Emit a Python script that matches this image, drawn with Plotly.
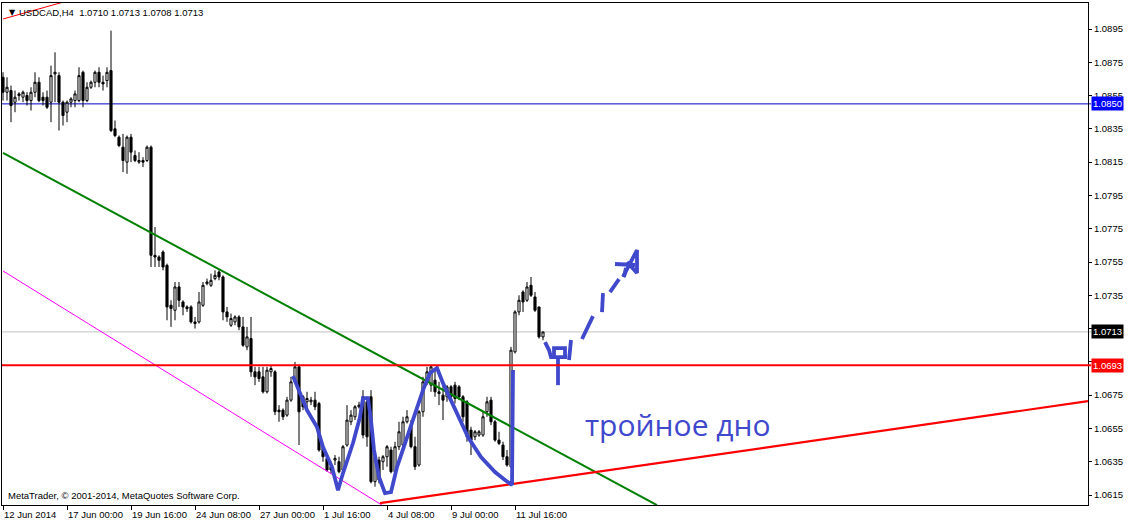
import plotly.graph_objects as go

# ---------------- data (USDCAD H4) ----------------
opens = [1.0866,1.0857,1.0858,1.0851,1.0855,1.0854,1.0855,1.0852,1.0857,1.0863,
         1.0854,1.0854,1.0851,1.0868,1.0867,1.0851,1.0845,1.0851,1.0852,1.0852,
         1.0869,1.0852,1.0860,1.0863,1.0869,1.0863,1.0864,1.0870,1.0835,1.0830,
         1.0824,1.0815,1.0830,1.0819,1.0815,1.0816,1.0816,1.0824,1.0759,1.0758,
         1.0761,1.0753,1.0729,1.0726,1.0740,1.0731,1.0728,1.0728,1.0719,1.0719,
         1.0729,1.0742,1.0741,1.0745,1.0749,1.0746,1.0725,1.0717,1.0719,1.0722,
         1.0716,1.0704,1.0709,1.0689,1.0689,1.0686,1.0677,1.0689,1.0689,1.0666,
         1.0666,1.0663,1.0672,1.0683,1.0692,1.0674,1.0671,1.0671,1.0672,1.0670,
         1.0643,1.0637,1.0632,1.0636,1.0635,1.0630,1.0645,1.0659,1.0662,1.0668,
         1.0674,1.0671,1.0674,1.0623,1.0636,1.0635,1.0638,1.0642,1.0629,1.0644,
         1.0645,1.0659,1.0657,1.0644,1.0633,1.0665,1.0683,1.0681,1.0684,1.0677,
         1.0675,1.0674,1.0680,1.0681,1.0680,1.0674,1.0671,1.0654,1.0650,1.0651,
         1.0651,1.0665,1.0672,1.0659,1.0648,1.0645,1.0638,1.0632,1.0701,1.0725,
         1.0737,1.0732,1.0741,1.0734,1.0728,1.0710]
highs = [1.0869,1.0866,1.0861,1.0858,1.0857,1.0858,1.0857,1.0860,1.0869,1.0866,
         1.0857,1.0858,1.0873,1.0881,1.0869,1.0852,1.0852,1.0854,1.0858,1.0872,
         1.0870,1.0863,1.0864,1.0870,1.0872,1.0867,1.0872,1.0894,1.0840,1.0831,
         1.0832,1.0831,1.0832,1.0822,1.0821,1.0818,1.0825,1.0825,1.0776,1.0759,
         1.0762,1.0754,1.0732,1.0743,1.0743,1.0732,1.0729,1.0729,1.0722,1.0737,
         1.0743,1.0745,1.0748,1.0750,1.0750,1.0747,1.0728,1.0724,1.0723,1.0723,
         1.0722,1.0716,1.0722,1.0692,1.0692,1.0692,1.0692,1.0693,1.0690,1.0669,
         1.0667,1.0674,1.0686,1.0695,1.0693,1.0675,1.0677,1.0674,1.0677,1.0671,
         1.0644,1.0639,1.0635,1.0639,1.0638,1.0645,1.0669,1.0666,1.0669,1.0671,
         1.0678,1.0674,1.0678,1.0642,1.0638,1.0639,1.0645,1.0644,1.0647,1.0659,
         1.0662,1.0666,1.0660,1.0650,1.0666,1.0686,1.0692,1.0693,1.0690,1.0683,
         1.0681,1.0681,1.0681,1.0683,1.0681,1.0675,1.0672,1.0656,1.0654,1.0654,
         1.0665,1.0674,1.0674,1.0660,1.0653,1.0647,1.0642,1.0704,1.0726,1.0735,
         1.0738,1.0743,1.0746,1.0737,1.0728,1.0713]
lows = [1.0852,1.0852,1.0839,1.0845,1.0852,1.0851,1.0849,1.0846,1.0854,1.0851,
        1.0849,1.0847,1.0839,1.0851,1.0834,1.0837,1.0839,1.0848,1.0848,1.0851,
        1.0848,1.0851,1.0859,1.0860,1.0860,1.0858,1.0860,1.0833,1.0830,1.0824,
        1.0809,1.0808,1.0815,1.0815,1.0814,1.0812,1.0815,1.0752,1.0752,1.0752,
        1.0750,1.0720,1.0716,1.0720,1.0728,1.0723,1.0725,1.0718,1.0715,1.0718,
        1.0728,1.0741,1.0740,1.0744,1.0744,1.0720,1.0719,1.0716,1.0717,1.0714,
        1.0704,1.0702,1.0686,1.0681,1.0683,1.0676,1.0676,1.0686,1.0663,1.0659,
        1.0660,1.0662,1.0671,1.0682,1.0645,1.0666,1.0665,1.0669,1.0666,1.0641,
        1.0635,1.0629,1.0628,1.0633,1.0628,1.0629,1.0644,1.0657,1.0660,1.0667,
        1.0649,1.0644,1.0622,1.0620,1.0622,1.0630,1.0632,1.0628,1.0628,1.0642,
        1.0644,1.0658,1.0643,1.0630,1.0632,1.0662,1.0681,1.0677,1.0674,1.0669,
        1.0660,1.0671,1.0671,1.0670,1.0672,1.0659,1.0647,1.0639,1.0648,1.0650,
        1.0650,1.0662,1.0657,1.0647,1.0645,1.0636,1.0632,1.0631,1.0700,1.0723,
        1.0725,1.0731,1.0734,1.0725,1.0709,1.0708]
closes = [1.0857,1.0860,1.0849,1.0854,1.0856,1.0857,1.0852,1.0857,1.0863,1.0852,
          1.0852,1.0848,1.0867,1.0869,1.0851,1.0843,1.0851,1.0853,1.0856,1.0867,
          1.0852,1.0860,1.0863,1.0869,1.0863,1.0862,1.0869,1.0834,1.0831,1.0825,
          1.0816,1.0830,1.0821,1.0816,1.0816,1.0815,1.0824,1.0759,1.0758,1.0756,
          1.0752,1.0728,1.0727,1.0740,1.0732,1.0728,1.0727,1.0719,1.0718,1.0731,
          1.0741,1.0743,1.0744,1.0747,1.0746,1.0725,1.0722,1.0721,1.0722,1.0716,
          1.0705,1.0710,1.0689,1.0686,1.0685,1.0677,1.0690,1.0691,1.0665,1.0665,
          1.0662,1.0672,1.0683,1.0692,1.0665,1.0668,1.0673,1.0672,1.0668,1.0642,
          1.0638,1.0630,1.0630,1.0637,1.0629,1.0644,1.0660,1.0663,1.0668,1.0669,
          1.0651,1.0650,1.0623,1.0638,1.0624,1.0638,1.0644,1.0629,1.0644,1.0653,
          1.0659,1.0662,1.0644,1.0632,1.0665,1.0683,1.0689,1.0692,1.0677,1.0676,
          1.0672,1.0680,1.0674,1.0673,1.0674,1.0662,1.0650,1.0648,1.0653,1.0653,
          1.0662,1.0671,1.0659,1.0648,1.0646,1.0638,1.0633,1.0702,1.0725,1.0732,
          1.0731,1.0740,1.0735,1.0726,1.0710,1.0713]
bars = list(range(len(opens)))

# time axis labels (every 16 bars)
date_tick_bars = [0, 16, 32, 48, 64, 80, 96, 112, 128]
date_tick_labels = ["12 Jun 2014", "17 Jun 00:00", "19 Jun 16:00", "24 Jun 08:00",
                    "27 Jun 00:00", "1 Jul 16:00", "4 Jul 08:00", "9 Jul 00:00", "11 Jul 16:00"]
price_ticks = [1.0615, 1.0635, 1.0655, 1.0675, 1.0695, 1.0715, 1.0735, 1.0755,
               1.0775, 1.0795, 1.0815, 1.0835, 1.0855, 1.0875, 1.0895]

# horizontal levels
level_blue = 1.0850
level_bid = 1.0713
level_red = 1.0693

# trend lines (bar index, price)
green_x = [0, 163.5]
green_y = [1.08205, 1.06089]
magenta_x = [0, 94.75]
magenta_y = [1.07496, 1.06089]
red_up_x = [94.25, 271.25]
red_up_y = [1.06101, 1.06714]
red_top_x = [0, 20]
red_top_y = [1.0901, 1.09145]

# hand drawn pattern (triple bottom)
w_x = [72.5, 74.25, 76, 78.5, 80, 82.25, 83.75, 85, 87.5, 89.25, 90, 91.25, 92, 92.75,
       94, 95.5, 97, 98.5, 101, 103.5, 105, 106.75, 108.5, 110, 112.5, 116.25, 119.5,
       123, 125.5, 127.25, 127.5]
w_y = [1.06865, 1.06762, 1.0666, 1.06558, 1.06438, 1.06318, 1.06179, 1.06282, 1.06462,
       1.06618, 1.06732, 1.06732, 1.066, 1.0642, 1.06258, 1.06161, 1.06167, 1.06318,
       1.06498, 1.0666, 1.0678, 1.06883, 1.06913, 1.06822, 1.0669, 1.06498, 1.06378,
       1.06288, 1.0624, 1.0621, 1.06901]
sketch_x = [135.5, 136.5, 137, 141, None, 137.75, 137.75, 140.5, 140.5, None,
            138.75, 138.75, None, 141.5, 142]
sketch_y = [1.07069, 1.07021, 1.06979, 1.06979, None, 1.06979, 1.07033, 1.07033, 1.06979, None,
            1.06979, 1.0681, None, 1.06961, 1.07081]
arrow_x = [144.75, 146.2, 147.5, None, 149.75, 150, None, 151.75, 154, None, 155.25, 155.75, None,
           155, 158.5, 158.5, 156, None, 153, 158]
arrow_y = [1.07087, 1.07160, 1.07225, None, 1.07249, 1.07363, None, 1.07369, 1.07447, None,
           1.0746, 1.07514, None, 1.0746, 1.07622, 1.07484, 1.0755, None, 1.07538, 1.07532]

label_text = "тройное дно"
label_x = 144.9
label_y = 1.06576

header_text = "USDCAD,H4  1.0710 1.0713 1.0708 1.0713"
footer_text = "MetaTrader, © 2001-2014, MetaQuotes Software Corp."

SKETCH = "#4048CC"
FONT = "Liberation Sans"
FS = 9.5

fig = go.Figure()

fig.add_trace(go.Candlestick(
    x=bars, open=opens, high=highs, low=lows, close=closes,
    increasing=dict(line=dict(color="black", width=1), fillcolor="white"),
    decreasing=dict(line=dict(color="black", width=1), fillcolor="black"),
    whiskerwidth=0, hoverinfo="skip"))

for xs, ys, col, w in [(green_x, green_y, "#008000", 2),
                       (magenta_x, magenta_y, "#FF00FF", 1),
                       (red_up_x, red_up_y, "#FF0000", 2.2),
                       (red_top_x, red_top_y, "#FF0000", 1)]:
    fig.add_trace(go.Scatter(x=xs, y=ys, mode="lines",
                             line=dict(color=col, width=w), hoverinfo="skip"))

for xs, ys in [(w_x, w_y), (sketch_x, sketch_y), (arrow_x, arrow_y)]:
    fig.add_trace(go.Scatter(x=xs, y=ys, mode="lines", connectgaps=False,
                             line=dict(color=SKETCH, width=3.8), hoverinfo="skip"))

shapes = [
    dict(type="line", xref="paper", x0=0, x1=1.003, yref="y", y0=level_blue, y1=level_blue,
         line=dict(color="#0000C8", width=1), layer="below"),
    dict(type="line", xref="paper", x0=0, x1=1.003, yref="y", y0=level_bid, y1=level_bid,
         line=dict(color="#C0C0C0", width=1), layer="below"),
    dict(type="line", xref="paper", x0=0, x1=1.003, yref="y", y0=level_red, y1=level_red,
         line=dict(color="#FF0000", width=2), layer="above"),
]

annotations = []
for b, t in zip(date_tick_bars, date_tick_labels):
    annotations.append(dict(x=b, xref="x", y=0, yref="paper", yanchor="top", xanchor="left",
                            yshift=-2, xshift=-1, text=t, showarrow=False,
                            font=dict(family=FONT, size=FS, color="black")))

for lvl, bg in [(level_blue, "#0000FF"), (level_bid, "#000000"), (level_red, "#FF0000")]:
    annotations.append(dict(x=1, xref="paper", y=lvl, yref="y", xanchor="left", yanchor="middle",
                            xshift=3, text=f"{lvl:.4f}", showarrow=False, bgcolor=bg,
                            borderpad=1, font=dict(family=FONT, size=FS, color="white")))

annotations.append(dict(x=0, xref="paper", y=1, yref="paper", xanchor="left", yanchor="top",
                        xshift=5, yshift=-3, text="▼", showarrow=False,
                        font=dict(family="DejaVu Sans", size=8, color="black")))
annotations.append(dict(x=0, xref="paper", y=1, yref="paper", xanchor="left", yanchor="top",
                        xshift=15, yshift=-2, text=header_text, showarrow=False,
                        font=dict(family=FONT, size=FS, color="black")))
annotations.append(dict(x=0, xref="paper", y=0, yref="paper", xanchor="left", yanchor="bottom",
                        xshift=4, yshift=2, text=footer_text, showarrow=False,
                        font=dict(family=FONT, size=FS, color="black")))
annotations.append(dict(x=label_x, xref="x", y=label_y, yref="y", xanchor="left", yanchor="middle",
                        text=label_text, showarrow=False,
                        font=dict(family="Open Sans", size=30, color=SKETCH)))

fig.update_layout(
    width=1129, height=522,
    margin=dict(l=2, r=41, t=3, b=17),
    paper_bgcolor="white", plot_bgcolor="white",
    showlegend=False, hovermode=False,
    shapes=shapes, annotations=annotations,
    boxgap=0.25,
    xaxis=dict(range=[-0.25, 271.25], rangeslider=dict(visible=False),
               showgrid=False, zeroline=False, showline=True, linecolor="black", linewidth=1,
               mirror=True, ticks="outside", ticklen=4, tickcolor="black",
               tickvals=date_tick_bars, showticklabels=False),
    yaxis=dict(range=[1.060899, 1.091062], side="right", automargin=False,
               showgrid=False, zeroline=False, showline=True, linecolor="black", linewidth=1,
               mirror=True, ticks="outside", ticklen=3, tickcolor="black",
               tickvals=price_ticks, ticktext=[f"{p:.4f}" for p in price_ticks],
               tickfont=dict(family=FONT, size=FS, color="black")),
)

fig.write_html("out.html", config={"displayModeBar": False},
               post_script="document.body.style.margin='0px';document.body.style.padding='0px';document.body.style.overflow='hidden';")
